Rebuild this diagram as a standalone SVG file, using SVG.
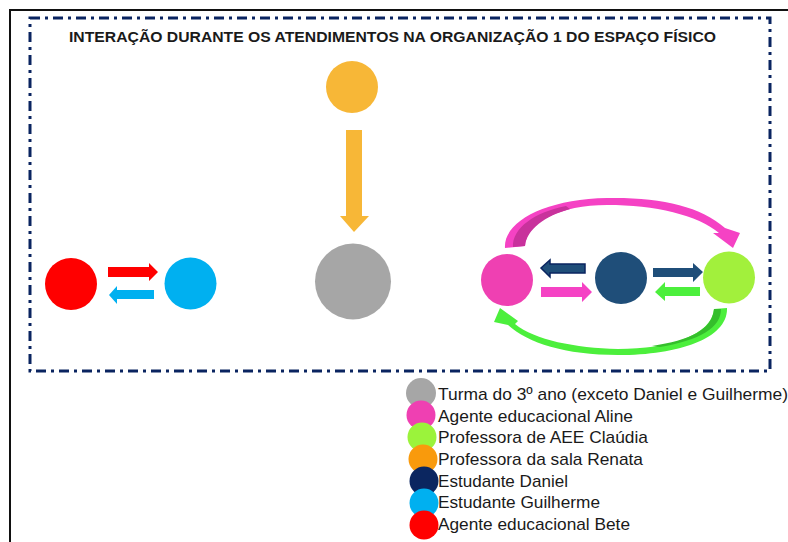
<svg xmlns="http://www.w3.org/2000/svg" width="788" height="542" viewBox="0 0 788 542">
<style>
.title{font-family:"Liberation Sans",Arial,sans-serif;font-weight:bold;font-size:14px;fill:#1a1a1a}
.leg{font-family:"Liberation Sans",Arial,sans-serif;font-size:17px;fill:#1a1a1a}
.frame{fill:none;stroke:#111;stroke-width:2}
.border{fill:none;stroke:#0a2460;stroke-width:3;stroke-dasharray:10 5 3 5}
</style>
<rect width="788" height="542" fill="#fff"/>
<path class="frame" d="M10 542 V10 H788"/>
<rect class="border" x="30" y="18" width="740" height="353"/>
<text class="title" x="69" y="42" textLength="647" lengthAdjust="spacingAndGlyphs">INTERAÇÃO DURANTE OS ATENDIMENTOS NA ORGANIZAÇÃO 1 DO ESPAÇO FÍSICO</text>

<g id="connectors">
  <!-- Renata -> Turma -->
  <polygon fill="#F7B737" points="346,130 362,130 362,216 369,216 354,232 340,216 346,216"/>
  <!-- Bete <-> Guilherme -->
  <polygon fill="#FF0000" points="108,267 149,267 149,263 158,272 149,281 149,277 108,277"/>
  <polygon fill="#00B0F0" points="154,290 117,290 117,286 109,295 117,304 117,299 154,299"/>
  <!-- Daniel -> Aline -->
  <polygon fill="#1F4E79" stroke="#0a2460" stroke-width="1.5" points="585,264 550,264 550,260 541,268 550,277 550,273 585,273"/>
  <!-- Aline -> Daniel -->
  <polygon fill="#F542C4" points="541,287 582,287 582,282 592,292 582,302 582,297 541,297"/>
  <!-- Daniel -> Claudia -->
  <polygon fill="#1F4E79" points="653,268 693,268 693,263 703,272 693,282 693,277 653,277"/>
  <!-- Claudia -> Daniel -->
  <polygon fill="#4CEF3C" points="700,287 665,287 665,282 655,292 665,301 665,296 700,296"/>
  <!-- Aline -> Claudia (curved) -->
  <path fill="#F542C4" d="M505 248 C503 222 545 199 607 198 C660 197 700 206 725 228 L740 233 L733 248 L713 233 L719 233 C698 215 655 205 607 205 C560 205 527 222 525 246 Z"/>
  <path fill="#C8329C" d="M513 247 C512 228 535 212 566 206 L570 209 C545 216 527 229 525 246 Z"/>
  <!-- Claudia -> Aline (curved) -->
  <path fill="#4CEF3C" d="M727 308 C728 338 680 355 618 355 C565 355 528 343 508 325 L494 322 L500 308 L518 321 L515 324 C535 340 575 348 618 349 C670 349 712 335 714 309 Z"/>
  <path fill="#35BE2C" d="M714 309 L721 309 C721 328 700 340 660 347 L652 346 C690 340 712 330 714 309 Z"/>
</g>

<g id="node-renata"><circle cx="352" cy="87" r="26" fill="#F7B737"/></g>
<g id="node-turma"><circle cx="353" cy="281.5" r="38" fill="#A6A6A6"/></g>
<g id="node-bete"><circle cx="71" cy="284" r="26" fill="#FF0000"/></g>
<g id="node-guilherme"><circle cx="190.5" cy="283.5" r="26" fill="#00B0F0"/></g>
<g id="node-aline"><circle cx="507" cy="280" r="26" fill="#EF40B2"/></g>
<g id="node-daniel"><circle cx="621" cy="278" r="26" fill="#1F4E79"/></g>
<g id="node-claudia"><circle cx="729" cy="277.5" r="26" fill="#A2F03C"/></g>

<g id="legend">
  <circle cx="421" cy="393" r="15" fill="#A6A6A6"/>
  <circle cx="421" cy="415" r="14.5" fill="#EF40B2"/>
  <circle cx="422" cy="437" r="14.5" fill="#9BF33B"/>
  <circle cx="423" cy="459" r="14.5" fill="#F99A0C"/>
  <circle cx="424" cy="481" r="14.5" fill="#0B2660"/>
  <circle cx="424" cy="503" r="14.5" fill="#00B0F0"/>
  <circle cx="424" cy="525" r="14.5" fill="#FF0000"/>
  <text class="leg" x="438" y="400" textLength="350" lengthAdjust="spacingAndGlyphs">Turma do 3º ano (exceto Daniel e Guilherme)</text>
  <text class="leg" x="438" y="422" textLength="195" lengthAdjust="spacingAndGlyphs">Agente educacional Aline</text>
  <text class="leg" x="438" y="443" textLength="210" lengthAdjust="spacingAndGlyphs">Professora de AEE Claúdia</text>
  <text class="leg" x="438" y="465" textLength="205" lengthAdjust="spacingAndGlyphs">Professora da sala Renata</text>
  <text class="leg" x="438" y="487" textLength="130" lengthAdjust="spacingAndGlyphs">Estudante Daniel</text>
  <text class="leg" x="438" y="508" textLength="162" lengthAdjust="spacingAndGlyphs">Estudante Guilherme</text>
  <text class="leg" x="438" y="530" textLength="192" lengthAdjust="spacingAndGlyphs">Agente educacional Bete</text>
</g>
</svg>
